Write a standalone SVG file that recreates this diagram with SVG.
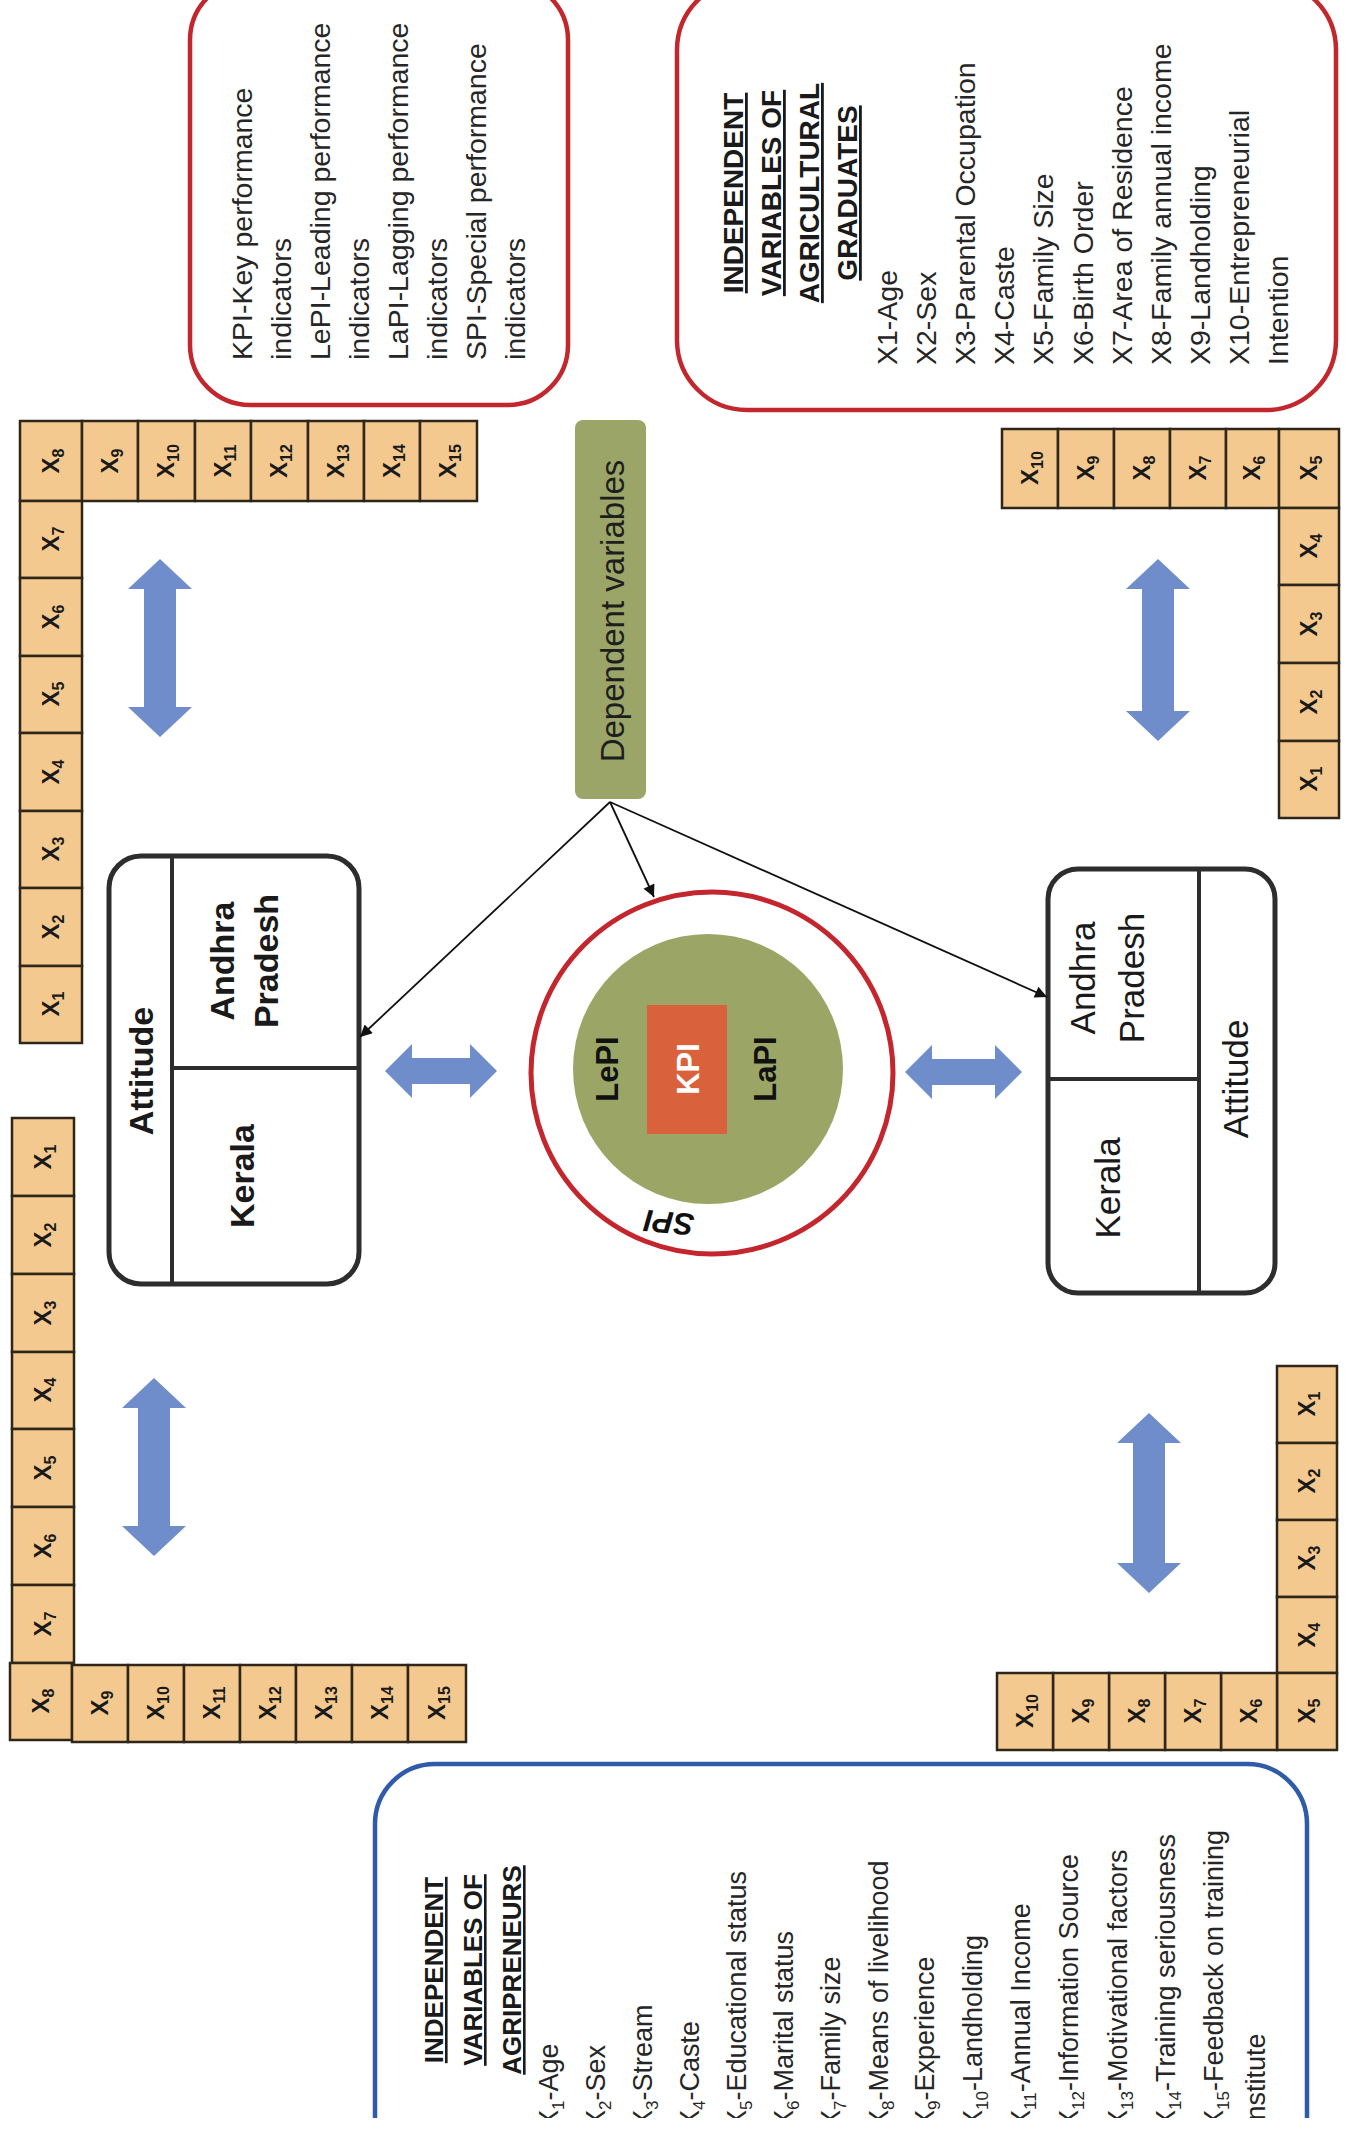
<svg xmlns="http://www.w3.org/2000/svg" width="1348" height="2130" viewBox="0 0 1348 2130">
<defs>
<style>
.cell{fill:#f3c98f;stroke:#2e2618;stroke-width:2.5}
.xl{font-family:"Liberation Sans",Arial,sans-serif;font-weight:bold;font-size:24px;fill:#1a1a1a;text-anchor:middle}
.s{font-size:16px}
.blk{fill:#6f8dca}
.t{font-family:"Liberation Sans",Arial,sans-serif;font-size:28.5px;fill:#262626}
.tb{font-family:"Liberation Sans",Arial,sans-serif;font-size:27px;fill:#262626}
.hd{font-family:"Liberation Sans",Arial,sans-serif;font-weight:bold;text-decoration:underline;fill:#1a1a1a;text-anchor:middle}
.att{font-family:"Liberation Sans",Arial,sans-serif;font-weight:bold;font-size:34px;fill:#1a1a1a;text-anchor:middle}
.attr{font-family:"Liberation Sans",Arial,sans-serif;font-size:35px;fill:#1a1a1a;text-anchor:middle}
.box{fill:#fff;stroke:#2d2d2d;stroke-width:5}
.div{stroke:#2d2d2d;stroke-width:4}
.con{stroke:#111;stroke-width:1.8;fill:none}
.pi{font-family:"Liberation Sans",Arial,sans-serif;font-weight:bold;font-size:31px;text-anchor:middle}
</style>
<marker id="ah" viewBox="0 0 10 10" refX="10" refY="5" markerWidth="14" markerHeight="12" markerUnits="userSpaceOnUse" orient="auto">
<path d="M0,0 L10,5 L0,10 z" fill="#111"/>
</marker>
<clipPath id="scan"><rect x="0" y="0" width="1348" height="2118"/></clipPath>
</defs>
<rect width="1348" height="2130" fill="#fff"/>

<!-- Legend box -->
<g id="legend">
<rect x="190" y="-20" width="378" height="425" rx="60" fill="none" stroke="#c1272d" stroke-width="4.5"/>
<text class="t" transform="translate(252,360) rotate(-90)">KPI-Key performance</text>
<text class="t" transform="translate(291,360) rotate(-90)">indicators</text>
<text class="t" transform="translate(330,360) rotate(-90)">LePI-Leading performance</text>
<text class="t" transform="translate(369,360) rotate(-90)">indicators</text>
<text class="t" transform="translate(408,360) rotate(-90)">LaPI-Lagging performance</text>
<text class="t" transform="translate(447,360) rotate(-90)">indicators</text>
<text class="t" transform="translate(486,360) rotate(-90)">SPI-Special performance</text>
<text class="t" transform="translate(525,360) rotate(-90)">indicators</text>
</g>

<!-- Graduates variables box -->
<g id="graduates-box">
<rect x="677" y="-20" width="659" height="430" rx="70" fill="none" stroke="#c1272d" stroke-width="4.5"/>
<text class="hd" font-size="28" transform="translate(743,193) rotate(-90)">INDEPENDENT</text>
<text class="hd" font-size="28" transform="translate(781,193) rotate(-90)">VARIABLES OF</text>
<text class="hd" font-size="28" transform="translate(819,193) rotate(-90)">AGRICULTURAL</text>
<text class="hd" font-size="28" transform="translate(857,193) rotate(-90)">GRADUATES</text>
<text class="t" transform="translate(897,365) rotate(-90)">X1-Age</text>
<text class="t" transform="translate(936,365) rotate(-90)">X2-Sex</text>
<text class="t" transform="translate(975,365) rotate(-90)">X3-Parental Occupation</text>
<text class="t" transform="translate(1014,365) rotate(-90)">X4-Caste</text>
<text class="t" transform="translate(1053,365) rotate(-90)">X5-Family Size</text>
<text class="t" transform="translate(1093,365) rotate(-90)">X6-Birth Order</text>
<text class="t" transform="translate(1132,365) rotate(-90)">X7-Area of Residence</text>
<text class="t" transform="translate(1171,365) rotate(-90)">X8-Family annual income</text>
<text class="t" transform="translate(1210,365) rotate(-90)">X9-Landholding</text>
<text class="t" transform="translate(1249,365) rotate(-90)">X10-Entrepreneurial</text>
<text class="t" transform="translate(1288,365) rotate(-90)">Intention</text>
</g>

<!-- Agripreneurs variables box -->
<g id="agripreneurs-box" clip-path="url(#scan)">
<rect x="375" y="1764" width="932" height="420" rx="60" fill="none" stroke="#2f5ba8" stroke-width="4.5"/>
<text class="hd" font-size="26" transform="translate(443,1970) rotate(-90)">INDEPENDENT</text>
<text class="hd" font-size="26" transform="translate(482,1970) rotate(-90)">VARIABLES OF</text>
<text class="hd" font-size="26" transform="translate(521,1970) rotate(-90)">AGRIPRENEURS</text>
<text class="tb" transform="translate(558,2128) rotate(-90)">X<tspan font-size="17" dy="6">1</tspan><tspan dy="-6">-Age</tspan></text>
<text class="tb" transform="translate(605,2128) rotate(-90)">X<tspan font-size="17" dy="6">2</tspan><tspan dy="-6">-Sex</tspan></text>
<text class="tb" transform="translate(652,2128) rotate(-90)">X<tspan font-size="17" dy="6">3</tspan><tspan dy="-6">-Stream</tspan></text>
<text class="tb" transform="translate(699,2128) rotate(-90)">X<tspan font-size="17" dy="6">4</tspan><tspan dy="-6">-Caste</tspan></text>
<text class="tb" transform="translate(746,2128) rotate(-90)">X<tspan font-size="17" dy="6">5</tspan><tspan dy="-6">-Educational status</tspan></text>
<text class="tb" transform="translate(793,2128) rotate(-90)">X<tspan font-size="17" dy="6">6</tspan><tspan dy="-6">-Marital status</tspan></text>
<text class="tb" transform="translate(840,2128) rotate(-90)">X<tspan font-size="17" dy="6">7</tspan><tspan dy="-6">-Family size</tspan></text>
<text class="tb" transform="translate(888,2128) rotate(-90)">X<tspan font-size="17" dy="6">8</tspan><tspan dy="-6">-Means of livelihood</tspan></text>
<text class="tb" transform="translate(934,2128) rotate(-90)">X<tspan font-size="17" dy="6">9</tspan><tspan dy="-6">-Experience</tspan></text>
<text class="tb" transform="translate(982,2128) rotate(-90)">X<tspan font-size="17" dy="6">10</tspan><tspan dy="-6">-Landholding</tspan></text>
<text class="tb" transform="translate(1030,2128) rotate(-90)">X<tspan font-size="17" dy="6">11</tspan><tspan dy="-6">-Annual Income</tspan></text>
<text class="tb" transform="translate(1078,2128) rotate(-90)">X<tspan font-size="17" dy="6">12</tspan><tspan dy="-6">-Information Source</tspan></text>
<text class="tb" transform="translate(1127,2128) rotate(-90)">X<tspan font-size="17" dy="6">13</tspan><tspan dy="-6">-Motivational factors</tspan></text>
<text class="tb" transform="translate(1175,2128) rotate(-90)">X<tspan font-size="17" dy="6">14</tspan><tspan dy="-6">-Training seriousness</tspan></text>
<text class="tb" transform="translate(1223,2128) rotate(-90)">X<tspan font-size="17" dy="6">15</tspan><tspan dy="-6">-Feedback on training</tspan></text>
<text class="tb" transform="translate(1265,2128) rotate(-90)">Institute</text>
</g>

<!-- Dependent variables -->
<g id="dependent-variables">
<rect x="575" y="420" width="71" height="379" rx="8" fill="#9aa567"/>
<text font-family="Liberation Sans, Arial, sans-serif" font-size="33" fill="#1e1e1e" text-anchor="middle" transform="translate(624,611) rotate(-90)">Dependent variables</text>
</g>

<!-- Central circle -->
<g id="indicators-circle">
<circle cx="712" cy="1073" r="181" fill="#fff" stroke="#c4262e" stroke-width="5"/>
<circle cx="708" cy="1069" r="135" fill="#9ba666"/>
<rect x="647" y="1005" width="80" height="129" fill="#d9623c"/>
<text class="pi" fill="#fff" font-size="29" transform="translate(699,1069) rotate(-90)">KPI</text>
<text class="pi" fill="#111" transform="translate(618,1069) rotate(-90)">LePI</text>
<text class="pi" fill="#111" transform="translate(776,1069) rotate(-90)">LaPI</text>
<text class="pi" fill="#111" font-size="30" font-style="italic" transform="translate(670,1212) rotate(185)">SPI</text>
</g>

<!-- Attitude boxes -->
<g id="attitude-left">
<rect class="box" x="109" y="856" width="250" height="428" rx="32"/>
<line class="div" x1="172" y1="856" x2="172" y2="1284"/>
<line class="div" x1="172" y1="1068" x2="359" y2="1068"/>
<text class="att" font-size="36" transform="translate(153,1071) rotate(-90)">Attitude</text>
<text class="att" transform="translate(234,961) rotate(-90)">Andhra</text>
<text class="att" transform="translate(278,961) rotate(-90)">Pradesh</text>
<text class="att" transform="translate(254,1176) rotate(-90)">Kerala</text>
</g>
<g id="attitude-right">
<rect class="box" x="1048" y="869" width="227" height="424" rx="30"/>
<line class="div" x1="1199" y1="869" x2="1199" y2="1293"/>
<line class="div" x1="1048" y1="1079" x2="1199" y2="1079"/>
<text class="attr" transform="translate(1095,978) rotate(-90)">Andhra</text>
<text class="attr" transform="translate(1144,978) rotate(-90)">Pradesh</text>
<text class="attr" transform="translate(1120,1188) rotate(-90)">Kerala</text>
<text class="attr" font-size="37" transform="translate(1248,1079) rotate(-90)">Attitude</text>
</g>

<!-- Variable strips -->
<g id="strip-top-left">
<rect class="cell" x="20" y="421" width="62" height="80"/>
<rect class="cell" x="20" y="501" width="62" height="77"/>
<rect class="cell" x="20" y="578" width="62" height="78"/>
<rect class="cell" x="20" y="656" width="62" height="77"/>
<rect class="cell" x="20" y="733" width="62" height="78"/>
<rect class="cell" x="20" y="811" width="62" height="77"/>
<rect class="cell" x="20" y="888" width="62" height="78"/>
<rect class="cell" x="20" y="966" width="62" height="77"/>
<rect class="cell" x="82" y="421" width="56" height="80"/>
<rect class="cell" x="138" y="421" width="57" height="80"/>
<rect class="cell" x="195" y="421" width="56" height="80"/>
<rect class="cell" x="251" y="421" width="57" height="80"/>
<rect class="cell" x="308" y="421" width="56" height="80"/>
<rect class="cell" x="364" y="421" width="56" height="80"/>
<rect class="cell" x="420" y="421" width="57" height="80"/>
<text class="xl" transform="translate(59,461) rotate(-90)">X<tspan class="s" dy="5">8</tspan></text>
<text class="xl" transform="translate(59,539) rotate(-90)">X<tspan class="s" dy="5">7</tspan></text>
<text class="xl" transform="translate(59,617) rotate(-90)">X<tspan class="s" dy="5">6</tspan></text>
<text class="xl" transform="translate(59,694) rotate(-90)">X<tspan class="s" dy="5">5</tspan></text>
<text class="xl" transform="translate(59,772) rotate(-90)">X<tspan class="s" dy="5">4</tspan></text>
<text class="xl" transform="translate(59,849) rotate(-90)">X<tspan class="s" dy="5">3</tspan></text>
<text class="xl" transform="translate(59,927) rotate(-90)">X<tspan class="s" dy="5">2</tspan></text>
<text class="xl" transform="translate(59,1004) rotate(-90)">X<tspan class="s" dy="5">1</tspan></text>
<text class="xl" transform="translate(118,461) rotate(-90)">X<tspan class="s" dy="5">9</tspan></text>
<text class="xl" transform="translate(174,461) rotate(-90)">X<tspan class="s" dy="5">10</tspan></text>
<text class="xl" transform="translate(231,461) rotate(-90)">X<tspan class="s" dy="5">11</tspan></text>
<text class="xl" transform="translate(287,461) rotate(-90)">X<tspan class="s" dy="5">12</tspan></text>
<text class="xl" transform="translate(344,461) rotate(-90)">X<tspan class="s" dy="5">13</tspan></text>
<text class="xl" transform="translate(400,461) rotate(-90)">X<tspan class="s" dy="5">14</tspan></text>
<text class="xl" transform="translate(456,461) rotate(-90)">X<tspan class="s" dy="5">15</tspan></text>
</g>

<g id="strip-bottom-left">
<rect class="cell" x="12" y="1118" width="62" height="78"/>
<rect class="cell" x="12" y="1196" width="62" height="78"/>
<rect class="cell" x="12" y="1274" width="62" height="78"/>
<rect class="cell" x="12" y="1352" width="62" height="77"/>
<rect class="cell" x="12" y="1429" width="62" height="78"/>
<rect class="cell" x="12" y="1507" width="62" height="78"/>
<rect class="cell" x="12" y="1585" width="62" height="78"/>
<rect class="cell" x="10" y="1663" width="62" height="77"/>
<rect class="cell" x="72" y="1665" width="56" height="77"/>
<rect class="cell" x="128" y="1665" width="56" height="77"/>
<rect class="cell" x="184" y="1665" width="56" height="77"/>
<rect class="cell" x="240" y="1665" width="56" height="77"/>
<rect class="cell" x="296" y="1665" width="56" height="77"/>
<rect class="cell" x="352" y="1665" width="56" height="77"/>
<rect class="cell" x="408" y="1665" width="58" height="77"/>
<text class="xl" transform="translate(51,1157) rotate(-90)">X<tspan class="s" dy="5">1</tspan></text>
<text class="xl" transform="translate(51,1235) rotate(-90)">X<tspan class="s" dy="5">2</tspan></text>
<text class="xl" transform="translate(51,1313) rotate(-90)">X<tspan class="s" dy="5">3</tspan></text>
<text class="xl" transform="translate(51,1390) rotate(-90)">X<tspan class="s" dy="5">4</tspan></text>
<text class="xl" transform="translate(51,1468) rotate(-90)">X<tspan class="s" dy="5">5</tspan></text>
<text class="xl" transform="translate(51,1546) rotate(-90)">X<tspan class="s" dy="5">6</tspan></text>
<text class="xl" transform="translate(51,1624) rotate(-90)">X<tspan class="s" dy="5">7</tspan></text>
<text class="xl" transform="translate(49,1701) rotate(-90)">X<tspan class="s" dy="5">8</tspan></text>
<text class="xl" transform="translate(108,1703) rotate(-90)">X<tspan class="s" dy="5">9</tspan></text>
<text class="xl" transform="translate(164,1703) rotate(-90)">X<tspan class="s" dy="5">10</tspan></text>
<text class="xl" transform="translate(220,1703) rotate(-90)">X<tspan class="s" dy="5">11</tspan></text>
<text class="xl" transform="translate(276,1703) rotate(-90)">X<tspan class="s" dy="5">12</tspan></text>
<text class="xl" transform="translate(332,1703) rotate(-90)">X<tspan class="s" dy="5">13</tspan></text>
<text class="xl" transform="translate(388,1703) rotate(-90)">X<tspan class="s" dy="5">14</tspan></text>
<text class="xl" transform="translate(445,1703) rotate(-90)">X<tspan class="s" dy="5">15</tspan></text>
</g>

<g id="strip-top-right">
<rect class="cell" x="1002" y="429" width="56" height="79"/>
<rect class="cell" x="1058" y="429" width="56" height="79"/>
<rect class="cell" x="1114" y="429" width="56" height="79"/>
<rect class="cell" x="1170" y="429" width="56" height="79"/>
<rect class="cell" x="1226" y="429" width="53" height="79"/>
<rect class="cell" x="1279" y="429" width="60" height="79"/>
<rect class="cell" x="1279" y="508" width="60" height="77"/>
<rect class="cell" x="1279" y="585" width="60" height="78"/>
<rect class="cell" x="1279" y="663" width="60" height="78"/>
<rect class="cell" x="1279" y="741" width="60" height="77"/>
<text class="xl" transform="translate(1038,468) rotate(-90)">X<tspan class="s" dy="5">10</tspan></text>
<text class="xl" transform="translate(1094,468) rotate(-90)">X<tspan class="s" dy="5">9</tspan></text>
<text class="xl" transform="translate(1150,468) rotate(-90)">X<tspan class="s" dy="5">8</tspan></text>
<text class="xl" transform="translate(1206,468) rotate(-90)">X<tspan class="s" dy="5">7</tspan></text>
<text class="xl" transform="translate(1260,468) rotate(-90)">X<tspan class="s" dy="5">6</tspan></text>
<text class="xl" transform="translate(1317,468) rotate(-90)">X<tspan class="s" dy="5">5</tspan></text>
<text class="xl" transform="translate(1317,546) rotate(-90)">X<tspan class="s" dy="5">4</tspan></text>
<text class="xl" transform="translate(1317,624) rotate(-90)">X<tspan class="s" dy="5">3</tspan></text>
<text class="xl" transform="translate(1317,702) rotate(-90)">X<tspan class="s" dy="5">2</tspan></text>
<text class="xl" transform="translate(1317,779) rotate(-90)">X<tspan class="s" dy="5">1</tspan></text>
</g>

<g id="strip-bottom-right">
<rect class="cell" x="1277" y="1366" width="60" height="77"/>
<rect class="cell" x="1277" y="1443" width="60" height="77"/>
<rect class="cell" x="1277" y="1520" width="60" height="77"/>
<rect class="cell" x="1277" y="1597" width="60" height="76"/>
<rect class="cell" x="1277" y="1673" width="60" height="77"/>
<rect class="cell" x="1221" y="1673" width="56" height="77"/>
<rect class="cell" x="1165" y="1673" width="56" height="77"/>
<rect class="cell" x="1109" y="1673" width="56" height="77"/>
<rect class="cell" x="1053" y="1673" width="56" height="77"/>
<rect class="cell" x="997" y="1673" width="56" height="77"/>
<text class="xl" transform="translate(1315,1404) rotate(-90)">X<tspan class="s" dy="5">1</tspan></text>
<text class="xl" transform="translate(1315,1481) rotate(-90)">X<tspan class="s" dy="5">2</tspan></text>
<text class="xl" transform="translate(1315,1558) rotate(-90)">X<tspan class="s" dy="5">3</tspan></text>
<text class="xl" transform="translate(1315,1635) rotate(-90)">X<tspan class="s" dy="5">4</tspan></text>
<text class="xl" transform="translate(1315,1711) rotate(-90)">X<tspan class="s" dy="5">5</tspan></text>
<text class="xl" transform="translate(1257,1711) rotate(-90)">X<tspan class="s" dy="5">6</tspan></text>
<text class="xl" transform="translate(1201,1711) rotate(-90)">X<tspan class="s" dy="5">7</tspan></text>
<text class="xl" transform="translate(1145,1711) rotate(-90)">X<tspan class="s" dy="5">8</tspan></text>
<text class="xl" transform="translate(1089,1711) rotate(-90)">X<tspan class="s" dy="5">9</tspan></text>
<text class="xl" transform="translate(1033,1711) rotate(-90)">X<tspan class="s" dy="5">10</tspan></text>
</g>

<!-- Block double arrows -->
<g id="double-arrows">
<path class="blk" d="M160,559 L192,589 L176,589 L176,707 L192,707 L160,737 L128,707 L144,707 L144,589 L128,589 Z"/>
<path class="blk" d="M154,1378 L186,1408 L170,1408 L170,1526 L186,1526 L154,1556 L122,1526 L138,1526 L138,1408 L122,1408 Z"/>
<path class="blk" d="M1158,559 L1190,589 L1174,589 L1174,711 L1190,711 L1158,741 L1126,711 L1142,711 L1142,589 L1126,589 Z"/>
<path class="blk" d="M1149,1413 L1181,1443 L1165,1443 L1165,1563 L1181,1563 L1149,1593 L1117,1563 L1133,1563 L1133,1443 L1117,1443 Z"/>
<path class="blk" d="M385,1071 L412,1044 L412,1058 L470,1058 L470,1044 L497,1071 L470,1098 L470,1084 L412,1084 L412,1098 Z"/>
<path class="blk" d="M905,1072 L932,1045 L932,1059 L995,1059 L995,1045 L1022,1072 L995,1099 L995,1085 L932,1085 L932,1099 Z"/>
</g>

<!-- Connectors -->
<g id="connectors">
<line class="con" x1="610" y1="802" x2="360" y2="1037" marker-end="url(#ah)"/>
<line class="con" x1="610" y1="802" x2="654" y2="897" marker-end="url(#ah)"/>
<line class="con" x1="610" y1="802" x2="1047" y2="997" marker-end="url(#ah)"/>
</g>
</svg>
